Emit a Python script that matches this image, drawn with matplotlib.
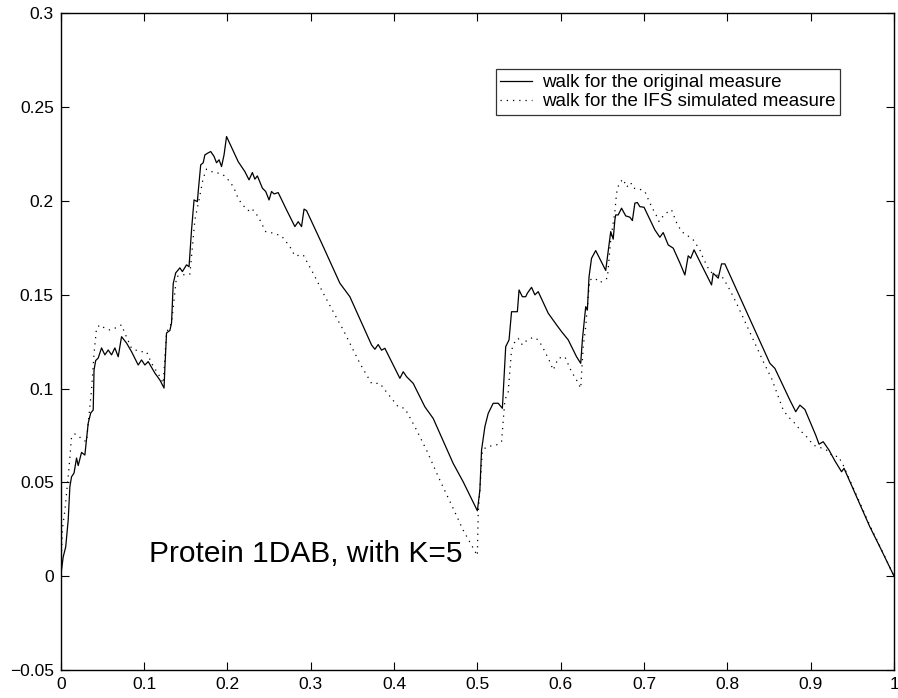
import matplotlib
matplotlib.use("Agg")
import matplotlib.pyplot as plt

plt.rcParams['font.family'] = ['Liberation Sans', 'DejaVu Sans']

# walk for the original measure (solid)
orig_x = [0, 0.003, 0.006, 0.009, 0.011, 0.013, 0.016, 0.019, 0.021, 0.025,
          0.029, 0.033, 0.036, 0.039, 0.040, 0.042, 0.045, 0.049, 0.053, 0.057,
          0.061, 0.065, 0.069, 0.073, 0.079, 0.085, 0.093, 0.097, 0.101, 0.105,
          0.113, 0.119, 0.124, 0.125, 0.127, 0.131, 0.133, 0.135, 0.138, 0.143,
          0.146, 0.151, 0.154, 0.157, 0.160, 0.164, 0.165, 0.168, 0.171, 0.173,
          0.177, 0.180, 0.184, 0.187, 0.190, 0.193, 0.196, 0.199, 0.213, 0.221,
          0.226, 0.230, 0.233, 0.236, 0.242, 0.246, 0.250, 0.253, 0.256, 0.261,
          0.271, 0.281, 0.285, 0.289, 0.292, 0.295, 0.313, 0.335, 0.347, 0.373,
          0.377, 0.381, 0.385, 0.389, 0.407, 0.411, 0.415, 0.423, 0.437, 0.447,
          0.471, 0.483, 0.500, 0.503, 0.505, 0.509, 0.513, 0.519, 0.525, 0.530,
          0.532, 0.534, 0.538, 0.541, 0.548, 0.550, 0.554, 0.558, 0.560, 0.565,
          0.569, 0.573, 0.585, 0.595, 0.601, 0.609, 0.619, 0.624, 0.626, 0.630,
          0.632, 0.634, 0.637, 0.642, 0.654, 0.660, 0.663, 0.665, 0.666, 0.669,
          0.673, 0.678, 0.683, 0.686, 0.689, 0.692, 0.695, 0.700, 0.713, 0.719,
          0.723, 0.729, 0.735, 0.743, 0.749, 0.753, 0.756, 0.760, 0.767, 0.781,
          0.783, 0.789, 0.793, 0.797, 0.851, 0.857, 0.875, 0.882, 0.887, 0.893,
          0.906, 0.910, 0.915, 0.922, 0.929, 0.937, 0.940, 0.971, 0.983, 1.0]
orig_y = [0, 0.0103, 0.0156, 0.030, 0.0477, 0.053, 0.055, 0.063, 0.059, 0.066,
          0.0646, 0.0816, 0.087, 0.0886, 0.110, 0.115, 0.1163, 0.1217, 0.118, 0.1206,
          0.118, 0.1217, 0.117, 0.1277, 0.1243, 0.1197, 0.1126, 0.1153, 0.1126, 0.1144,
          0.1083, 0.1046, 0.1003, 0.111, 0.1297, 0.131, 0.135, 0.156, 0.1617, 0.1644,
          0.1624, 0.166, 0.165, 0.1846, 0.2006, 0.1997, 0.205, 0.2193, 0.2204, 0.2246,
          0.2257, 0.2264, 0.2238, 0.2204, 0.222, 0.2184, 0.2246, 0.2344, 0.221, 0.2157,
          0.2113, 0.2152, 0.2117, 0.2134, 0.2069, 0.2051, 0.2006, 0.2051, 0.2038, 0.2045,
          0.1953, 0.1864, 0.189, 0.1864, 0.1957, 0.1949, 0.1777, 0.1562, 0.149, 0.1233,
          0.121, 0.1235, 0.1205, 0.1215, 0.1055, 0.109, 0.1064, 0.1028, 0.0903, 0.0841,
          0.0601, 0.0503, 0.0349, 0.0459, 0.0672, 0.0797, 0.0868, 0.0922, 0.0922, 0.0895,
          0.1064, 0.1224, 0.126, 0.141, 0.141, 0.1526, 0.149, 0.149, 0.1509, 0.154,
          0.150, 0.1517, 0.1402, 0.134, 0.1304, 0.126, 0.117, 0.1135, 0.126, 0.1437,
          0.142, 0.1597, 0.1695, 0.1736, 0.163, 0.1837, 0.1797, 0.190, 0.1926, 0.1926,
          0.1962, 0.1921, 0.1914, 0.1896, 0.1989, 0.1992, 0.197, 0.1967, 0.1846, 0.1807,
          0.1832, 0.1766, 0.1749, 0.167, 0.1606, 0.1708, 0.1695, 0.174, 0.1677, 0.1553,
          0.1615, 0.1589, 0.1665, 0.1665, 0.1135, 0.1108, 0.0939, 0.0877, 0.0912, 0.0889,
          0.0752, 0.0704, 0.0717, 0.0672, 0.0615, 0.0557, 0.0575, 0.0263, 0.0156, 0]

# walk for the IFS simulated measure (dotted)
ifs_x = [0, 0.002, 0.005, 0.008, 0.010, 0.013, 0.017, 0.021, 0.025, 0.031,
         0.033, 0.037, 0.040, 0.043, 0.047, 0.053, 0.059, 0.065, 0.073, 0.077,
         0.085, 0.095, 0.103, 0.109, 0.119, 0.123, 0.127, 0.133, 0.139, 0.145,
         0.155, 0.161, 0.166, 0.171, 0.175, 0.181, 0.187, 0.195, 0.203, 0.208,
         0.212, 0.217, 0.225, 0.229, 0.237, 0.246, 0.255, 0.265, 0.275, 0.281,
         0.291, 0.303, 0.315, 0.327, 0.339, 0.359, 0.373, 0.383, 0.389, 0.405,
         0.413, 0.425, 0.439, 0.455, 0.471, 0.483, 0.493, 0.500, 0.501, 0.503,
         0.506, 0.511, 0.523, 0.529, 0.533, 0.537, 0.541, 0.545, 0.549, 0.554,
         0.559, 0.567, 0.573, 0.578, 0.586, 0.591, 0.597, 0.605, 0.613, 0.619,
         0.624, 0.627, 0.630, 0.633, 0.635, 0.641, 0.647, 0.656, 0.660, 0.665,
         0.667, 0.670, 0.675, 0.679, 0.684, 0.687, 0.695, 0.701, 0.705, 0.710,
         0.715, 0.718, 0.723, 0.729, 0.733, 0.739, 0.745, 0.751, 0.759, 0.767,
         0.771, 0.779, 0.787, 0.795, 0.803, 0.811, 0.823, 0.835, 0.845, 0.853,
         0.859, 0.867, 0.873, 0.881, 0.889, 0.897, 0.903, 0.911, 0.919, 0.927,
         0.933, 0.939, 0.971, 0.983, 1.0]
ifs_y = [0, 0.025, 0.035, 0.049, 0.058, 0.0743, 0.0758, 0.0752, 0.073, 0.0717,
         0.0815, 0.0993, 0.1188, 0.1322, 0.134, 0.1322, 0.1313, 0.1322, 0.134, 0.1295,
         0.1215, 0.1197, 0.1197, 0.1135, 0.1064, 0.1028, 0.130, 0.135, 0.1597, 0.1606,
         0.161, 0.190, 0.2006, 0.2122, 0.217, 0.2157, 0.2152, 0.214, 0.2104, 0.2069,
         0.2024, 0.1985, 0.1949, 0.1962, 0.1917, 0.1837, 0.1829, 0.1814, 0.1757, 0.1708,
         0.1713, 0.1615, 0.1509, 0.141, 0.1313, 0.1135, 0.1028, 0.1028, 0.0993, 0.0903,
         0.0895, 0.0797, 0.0672, 0.0512, 0.0361, 0.0245, 0.0165, 0.011, 0.0335, 0.046,
         0.067, 0.069, 0.070, 0.0717, 0.0939, 0.0983, 0.1206, 0.125, 0.1268, 0.1233,
         0.1256, 0.1274, 0.126, 0.1224, 0.1153, 0.1099, 0.1162, 0.117, 0.109, 0.1046,
         0.1002, 0.1224, 0.133, 0.149, 0.158, 0.1589, 0.1565, 0.1589, 0.1793, 0.1944,
         0.2042, 0.2095, 0.2117, 0.2074, 0.2099, 0.2069, 0.2063, 0.2051, 0.201, 0.1962,
         0.1921, 0.1891, 0.1921, 0.1944, 0.1953, 0.1885, 0.1837, 0.182, 0.1793, 0.174,
         0.1695, 0.1624, 0.1606, 0.1589, 0.1526, 0.1455, 0.1339, 0.1224, 0.1126, 0.1055,
         0.0983, 0.0886, 0.085, 0.0815, 0.077, 0.0735, 0.0699, 0.0687, 0.0672, 0.0637,
         0.064, 0.0592, 0.027, 0.016, 0]

x_ticks = [0, 0.1, 0.2, 0.3, 0.4, 0.5, 0.6, 0.7, 0.8, 0.9, 1]
y_ticks = [-0.05, 0, 0.05, 0.1, 0.15, 0.2, 0.25, 0.3]

fig = plt.figure(figsize=(8.98, 6.98), dpi=100)
ax = fig.add_axes([0.0676, 0.0401, 0.928, 0.9406])

ax.plot(orig_x, orig_y, color='black', linewidth=0.9, linestyle='-',
        label='walk for the original measure')
ax.plot(ifs_x, ifs_y, color='black', linewidth=0.9, linestyle=(0, (1, 4)),
        label='walk for the IFS simulated measure')

ax.set_xlim(0, 1)
ax.set_ylim(-0.05, 0.3)
ax.set_xticks(x_ticks)
ax.set_xticklabels([f"{t:g}" for t in x_ticks])
ax.set_yticks(y_ticks)
ax.set_yticklabels([f"{t:g}".replace('-', '\u2212') for t in y_ticks])
ax.tick_params(direction='in', length=6, width=0.8, labelsize=12.5,
               top=True, right=True, pad=5)
for s in ax.spines.values():
    s.set_linewidth(1.0)

ax.text(0.106, 0.0075, "Protein 1DAB, with K=5", fontsize=21.5)

leg = ax.legend(loc='upper right', bbox_to_anchor=(0.935, 0.915),
                fontsize=13.5, frameon=True, fancybox=False, shadow=False,
                handlelength=1.7, borderpad=0.25, labelspacing=0.1,
                handletextpad=0.5, borderaxespad=0)
leg.get_frame().set_edgecolor('black')
leg.get_frame().set_linewidth(0.9)

fig.savefig("out.png", dpi=100)
